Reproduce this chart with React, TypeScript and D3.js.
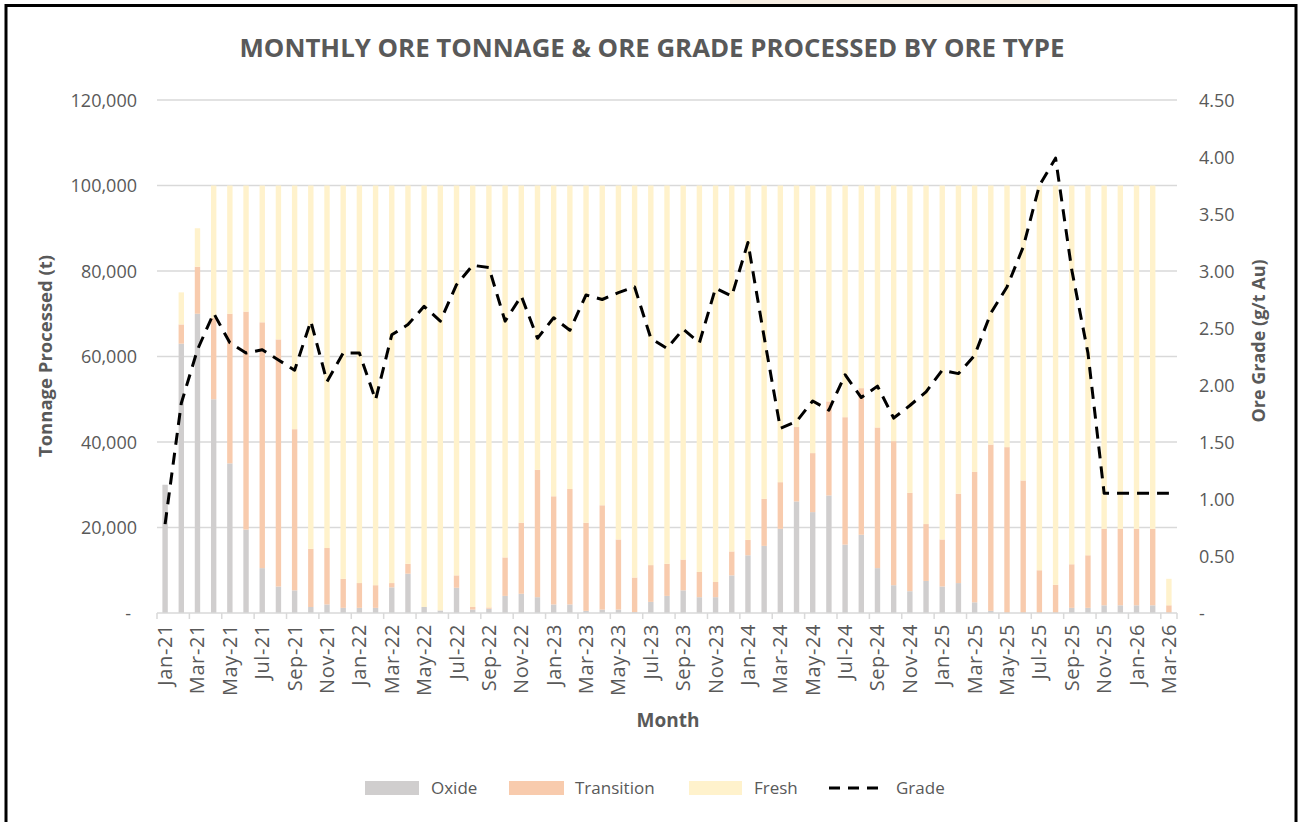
import React from 'react';
import * as d3 from 'd3';

const months = [
  'Jan-21','Feb-21','Mar-21','Apr-21','May-21','Jun-21','Jul-21','Aug-21','Sep-21','Oct-21','Nov-21','Dec-21',
  'Jan-22','Feb-22','Mar-22','Apr-22','May-22','Jun-22','Jul-22','Aug-22','Sep-22','Oct-22','Nov-22','Dec-22',
  'Jan-23','Feb-23','Mar-23','Apr-23','May-23','Jun-23','Jul-23','Aug-23','Sep-23','Oct-23','Nov-23','Dec-23',
  'Jan-24','Feb-24','Mar-24','Apr-24','May-24','Jun-24','Jul-24','Aug-24','Sep-24','Oct-24','Nov-24','Dec-24',
  'Jan-25','Feb-25','Mar-25','Apr-25','May-25','Jun-25','Jul-25','Aug-25','Sep-25','Oct-25','Nov-25','Dec-25',
  'Jan-26','Feb-26','Mar-26'
];

const oxide = [
  30000, 63000, 70000, 50000, 35000, 19500, 10500, 6200, 5300, 1400, 2000, 1200,
  1200, 1200, 6000, 9200, 1400, 600, 5900, 800, 1000, 4000, 4500, 3700,
  2000, 2000, 500, 800, 800, 200, 2600, 4000, 5300, 3700, 3700, 8800,
  13500, 15700, 19700, 26100, 23600, 27500, 16000, 18300, 10500, 6500, 5100, 7500,
  6200, 7000, 2500, 500, 0, 0, 0, 0, 1200, 1200, 1800, 1800,
  1800, 1800, 0
];

const transition = [
  0, 4500, 11000, 19000, 35000, 51000, 57500, 57800, 37700, 13600, 13200, 6800,
  5800, 5300, 1000, 2300, 0, 0, 2900, 600, 300, 9000, 16600, 29800,
  25300, 27000, 20600, 24400, 16400, 8100, 8600, 7500, 7200, 5900, 3550, 5600,
  3600, 11000, 10900, 17400, 13800, 22000, 29800, 34300, 32900, 33700, 23000, 13300,
  11000, 20900, 30500, 38900, 38800, 31000, 10000, 6600, 10200, 12300, 17900, 17900,
  17900, 17900, 1800
];

const fresh = [
  0, 7500, 9000, 31000, 30000, 29500, 32000, 36000, 57000, 85000, 84800, 92000,
  93000, 93500, 93000, 88500, 98600, 99400, 91200, 98600, 98700, 87000, 78900, 66500,
  72700, 71000, 78900, 74800, 82800, 91700, 88800, 88500, 87500, 90400, 92750, 85600,
  82900, 73300, 69400, 56500, 62600, 50500, 54200, 47400, 56600, 59800, 71900, 79200,
  82800, 72100, 67000, 60600, 61200, 69000, 90000, 93400, 88600, 86500, 80300, 80300,
  80300, 80300, 6200
];

const grade = [
  0.78, 1.84, 2.31, 2.63, 2.37, 2.28, 2.31, 2.22, 2.13, 2.56, 2.03, 2.28,
  2.28, 1.87, 2.44, 2.53, 2.69, 2.56, 2.88, 3.05, 3.03, 2.56, 2.78, 2.41,
  2.59, 2.48, 2.79, 2.75, 2.81, 2.86, 2.41, 2.32, 2.49, 2.37, 2.85, 2.78,
  3.25, 2.42, 1.62, 1.68, 1.86, 1.78, 2.09, 1.89, 1.99, 1.71, 1.82, 1.94,
  2.13, 2.10, 2.26, 2.63, 2.86, 3.21, 3.75, 3.99, 3.01, 2.28, 1.05, 1.05,
  1.05, 1.05, 1.05
];

const leftTicks = [0, 20000, 40000, 60000, 80000, 100000, 120000];
const rightTicks = [0, 0.5, 1.0, 1.5, 2.0, 2.5, 3.0, 3.5, 4.0, 4.5];

const seriesKeys = ['oxide', 'transition', 'fresh'];
const seriesNames = ['Oxide', 'Transition', 'Fresh'];
const seriesColors = ['#d0cece', '#f8cbad', '#fff2cc'];

const TEXT = '#595959';
const FONT = '"Open Sans", "Noto Sans", sans-serif';

export default function App() {
  const W = 1301, H = 822;
  const left = 157, right = 1177, top = 100, bottom = 613;

  const x = d3.scaleBand<string>().domain(months).range([left, right]).paddingInner(0.667).paddingOuter(0.3335);
  const bw = x.bandwidth();
  const step = x.step();
  const yL = d3.scaleLinear().domain([0, 120000]).range([bottom, top]);
  const yR = d3.scaleLinear().domain([0, 4.5]).range([bottom, top]);

  const rows = months.map((m, i) => ({ month: m, oxide: oxide[i], transition: transition[i], fresh: fresh[i] }));
  const stacked = d3.stack<any>().keys(seriesKeys)(rows);

  const line = d3.line<number>()
    .x((_, i) => (x(months[i]) as number) + bw / 2)
    .y((d) => yR(d));

  const fmtL = d3.format(',');
  const fmtR = d3.format('.2f');

  const legendItems = [
    { sx: 365, sw: 54, tx: 431, i: 0 },
    { sx: 509, sw: 55, tx: 575, i: 1 },
    { sx: 689, sw: 53, tx: 754, i: 2 },
  ];

  return (
    <svg width={W} height={H} style={{ position: 'absolute', left: 0, top: 0, background: '#fff' }} fontFamily={FONT}>
      <rect x={0} y={0} width={W} height={H} fill="#fff" />
      <rect x={730} y={0} width={320} height={5} fill="#f6ede2" />
      {/* frame */}
      <rect x={6} y={5.5} width={1290} height={H + 20} fill="none" stroke="#000" strokeWidth={3} />

      {/* title */}
      <text x={652} y={57} textAnchor="middle" fontSize={25} fontWeight={700} fill={TEXT}
        textLength={825} lengthAdjust="spacingAndGlyphs">
        MONTHLY ORE TONNAGE &amp; ORE GRADE PROCESSED BY ORE TYPE
      </text>

      {/* gridlines */}
      {leftTicks.filter((t) => t > 0).map((t) => (
        <line key={'g' + t} x1={left} x2={right} y1={yL(t)} y2={yL(t)} stroke="#d9d9d9" strokeWidth={1.5} />
      ))}

      {/* bars */}
      {stacked.map((s, si) => (
        <g key={s.key} fill={seriesColors[si]}>
          {s.map((d: any, i: number) => {
            const h = yL(d[0]) - yL(d[1]);
            if (h <= 0) return null;
            return <rect key={i} x={x(months[i])} y={yL(d[1])} width={bw} height={h} />;
          })}
        </g>
      ))}

      {/* x axis */}
      <line x1={left} x2={right} y1={bottom} y2={bottom} stroke="#d9d9d9" strokeWidth={1.5} />
      {months.map((m, i) => (i % 2 === 0 ? (
        <line key={'t' + m} x1={left + i * step} x2={left + i * step} y1={bottom} y2={bottom + 6} stroke="#d9d9d9" strokeWidth={1.5} />
      ) : null))}
      <line x1={right} x2={right} y1={bottom} y2={bottom + 6} stroke="#d9d9d9" strokeWidth={1.5} />
      {months.map((m, i) => (i % 2 === 0 ? (
        <text key={'l' + m}
          transform={`translate(${(x(m) as number) + bw / 2 + 7},${624}) rotate(-90)`}
          textAnchor="end" fontSize={20} letterSpacing={0.6} fill={TEXT}>{m}</text>
      ) : null))}

      {/* left axis labels */}
      {leftTicks.map((t) => (
        <text key={'yl' + t} x={t === 0 ? 131 : 137} y={yL(t) + 6.5} textAnchor="end" fontSize={18} fill={TEXT}>
          {t === 0 ? '-' : fmtL(t)}
        </text>
      ))}
      {/* right axis labels */}
      {rightTicks.map((t) => (
        <text key={'yr' + t} x={1199} y={yR(t) + 6.5} textAnchor="start" fontSize={18} fill={TEXT}>
          {t === 0 ? '-' : fmtR(t)}
        </text>
      ))}

      {/* grade line */}
      <path d={line(grade) || ''} fill="none" stroke="#000" strokeWidth={3} strokeDasharray="12 8" strokeLinejoin="round" />

      {/* axis titles */}
      <text transform="translate(52,356) rotate(-90)" textAnchor="middle" fontSize={18.5} fontWeight={700} fill={TEXT}>
        Tonnage Processed (t)
      </text>
      <text transform="translate(1265,341) rotate(-90)" textAnchor="middle" fontSize={18} fontWeight={700} fill={TEXT}>
        Ore Grade (g/t Au)
      </text>
      <text x={668} y={727} textAnchor="middle" fontSize={19} fontWeight={700} fill={TEXT}>Month</text>

      {/* legend */}
      {legendItems.map((it) => (
        <g key={'lg' + it.i}>
          <rect x={it.sx} y={781} width={it.sw} height={14} fill={seriesColors[it.i]} />
          <text x={it.tx} y={794} fontSize={17} fill={TEXT}>{seriesNames[it.i]}</text>
        </g>
      ))}
      <line x1={829} x2={886} y1={788} y2={788} stroke="#000" strokeWidth={3} strokeDasharray="11 8" />
      <text x={896} y={794} fontSize={17} fill={TEXT}>Grade</text>
    </svg>
  );
}
